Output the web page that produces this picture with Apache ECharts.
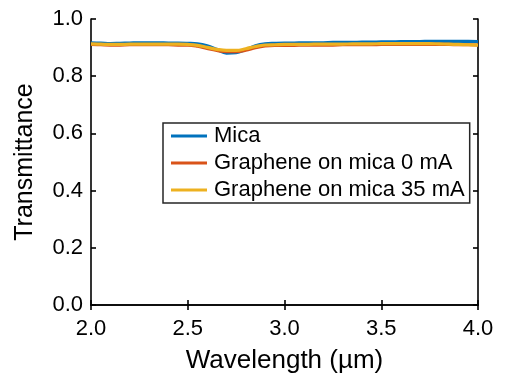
<!DOCTYPE html>
<html>
<head>
<meta charset="utf-8">
<script src="https://cdn.jsdelivr.net/npm/echarts@6/dist/echarts.min.js"></script>
<style>html,body{margin:0;padding:0;background:#fff;}#c{width:505px;height:379px;}</style>
</head>
<body>
<div id="c"></div>
<script>
var wavelength = [2.00,2.05,2.10,2.15,2.20,2.25,2.30,2.35,2.40,2.45,2.50,2.55,2.60,2.65,2.70,2.75,2.80,2.85,2.90,2.95,3.00,3.05,3.10,3.15,3.20,3.25,3.30,3.35,3.40,3.45,3.50,3.55,3.60,3.65,3.70,3.75,3.80,3.85,3.90,3.95,4.00];
var mica = [0.917,0.916,0.914,0.915,0.916,0.917,0.917,0.917,0.916,0.916,0.915,0.913,0.906,0.894,0.881,0.882,0.893,0.906,0.913,0.915,0.916,0.916,0.917,0.917,0.917,0.918,0.918,0.918,0.919,0.919,0.920,0.920,0.921,0.921,0.921,0.922,0.922,0.922,0.922,0.922,0.921];
var graphene0 = [0.911,0.910,0.909,0.909,0.910,0.910,0.910,0.910,0.910,0.909,0.909,0.905,0.897,0.890,0.886,0.886,0.891,0.900,0.906,0.908,0.908,0.908,0.909,0.909,0.909,0.909,0.910,0.910,0.910,0.910,0.911,0.911,0.911,0.911,0.911,0.911,0.911,0.911,0.910,0.910,0.909];
var graphene35 = [0.913,0.912,0.911,0.911,0.912,0.912,0.912,0.912,0.912,0.912,0.911,0.908,0.901,0.894,0.890,0.890,0.896,0.904,0.909,0.910,0.911,0.911,0.911,0.912,0.912,0.912,0.912,0.913,0.913,0.913,0.914,0.914,0.914,0.914,0.914,0.914,0.913,0.912,0.911,0.910,0.909];
var seriesNames = ['Mica','Graphene on mica 0 mA','Graphene on mica 35 mA'];
var xTicks = ['2.0','2.5','3.0','3.5','4.0'];
var yTicks = ['0.0','0.2','0.4','0.6','0.8','1.0'];

function pairs(ys){ return wavelength.map(function(x,i){ return [x, ys[i]]; }); }
var colors = ['#0072BD','#D95319','#EDB120'];
var font = 'Liberation Sans, Arial, Helvetica, sans-serif';
var chart = echarts.init(document.getElementById('c'), null, {renderer:'canvas'});
var axisLine = {show:true, lineStyle:{color:'#000', width:1.6}};
var tick = {show:true, inside:true, length:5, lineStyle:{color:'#000', width:1.6}};
chart.setOption({
  animation:false,
  color: colors,
  grid:{left:91, right:27, top:19, bottom:73},
  legend:{
    orient:'vertical', left:163, top:123,
    data: seriesNames,
    backgroundColor:'#fff', borderColor:'#262626', borderWidth:1.5,
    padding:[2,5,2,8],
    itemWidth:36, itemHeight:3, itemGap:5,
    icon:'rect',
    textStyle:{fontFamily:font, fontSize:22, color:'#000', padding:[0,0,0,2]}
  },
  xAxis:[{
    type:'value', min:2, max:4, interval:0.5, position:'bottom',
    name:'Wavelength (µm)', nameLocation:'middle', nameGap:43,
    nameTextStyle:{fontFamily:font, fontSize:26, color:'#000'},
    axisLine:axisLine, axisTick:tick,
    axisLabel:{fontFamily:font, fontSize:22, color:'#000', margin:13,
      formatter:function(v){ var i=Math.round((v-2)/0.5); return xTicks[i]; }},
    splitLine:{show:false}
  },{
    type:'value', min:2, max:4, interval:0.5, position:'top',
    axisLine:axisLine, axisTick:tick,
    axisLabel:{show:false}, splitLine:{show:false}
  }],
  yAxis:[{
    type:'value', min:0, max:1, interval:0.2, position:'left',
    name:'Transmittance', nameLocation:'middle', nameGap:53,
    nameTextStyle:{fontFamily:font, fontSize:25, color:'#000'},
    axisLine:axisLine, axisTick:tick,
    axisLabel:{fontFamily:font, fontSize:22, color:'#000', margin:8,
      formatter:function(v){ return yTicks[Math.round(v/0.2)]; }},
    splitLine:{show:false}
  },{
    type:'value', min:0, max:1, interval:0.2, position:'right',
    axisLine:axisLine, axisTick:tick,
    axisLabel:{show:false}, splitLine:{show:false}
  }],
  series:[
    {name:seriesNames[0], type:'line', data:pairs(mica), smooth:0.4, showSymbol:false, lineStyle:{width:3.2, color:colors[0]}},
    {name:seriesNames[1], type:'line', data:pairs(graphene0), smooth:0.4, showSymbol:false, lineStyle:{width:3.2, color:colors[1]}},
    {name:seriesNames[2], type:'line', data:pairs(graphene35), smooth:0.4, showSymbol:false, lineStyle:{width:3.2, color:colors[2]}}
  ]
});
</script>
</body>
</html>
